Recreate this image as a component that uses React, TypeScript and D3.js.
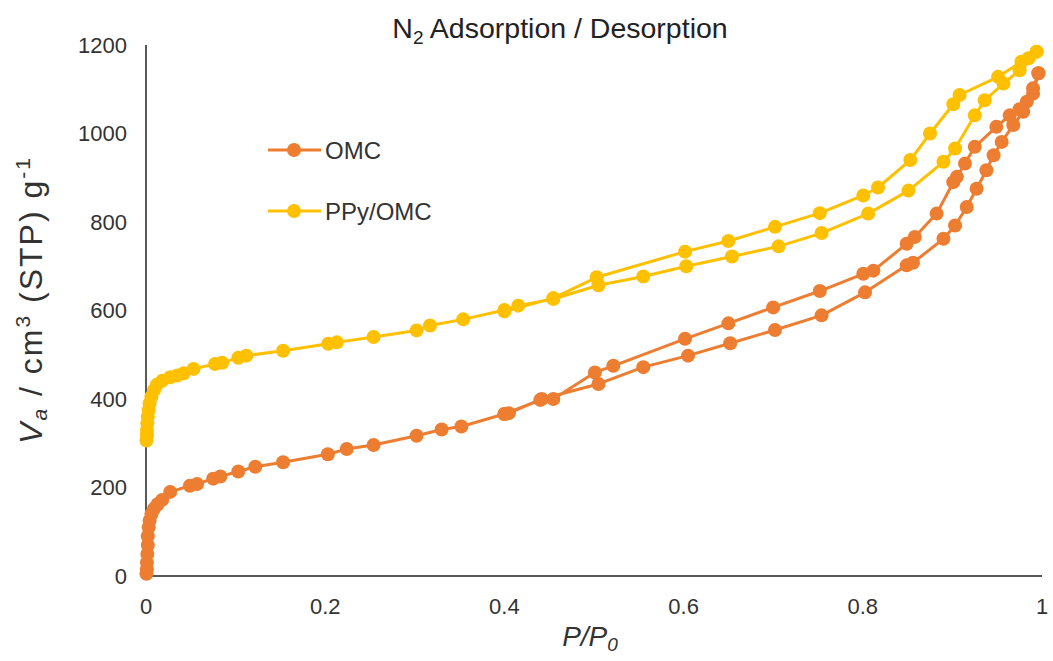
import React from "react";
import * as d3 from "d3";

// ---- data ----
const omcAdsP = [0.0005, 0.001, 0.001, 0.0015, 0.002, 0.002, 0.003, 0.004, 0.006, 0.009, 0.013, 0.018, 0.027, 0.049, 0.057, 0.075, 0.083, 0.103, 0.122, 0.153, 0.203, 0.224, 0.254, 0.302, 0.33, 0.352, 0.4, 0.405, 0.4416, 0.505, 0.555, 0.605, 0.652, 0.702, 0.754, 0.8025, 0.849, 0.856, 0.89, 0.903, 0.916, 0.927, 0.938, 0.946, 0.955, 0.968, 0.979, 0.99, 0.996];
const omcAdsV = [5, 15, 30, 50, 70, 90, 110, 125, 140, 152, 162, 172, 190, 204, 208, 220, 225, 236, 247, 257, 275, 287, 296, 317, 331, 338, 366, 368, 400, 434, 472, 498, 526, 556, 589, 641, 702, 708, 762, 792, 834, 875, 917, 951, 981, 1019, 1049, 1090, 1136];
const omcDesP = [0.996, 0.99, 0.983, 0.975, 0.964, 0.949, 0.925, 0.914, 0.905, 0.901, 0.8824, 0.858, 0.849, 0.8118, 0.8006, 0.752, 0.7, 0.65, 0.6016, 0.5216, 0.501, 0.4546, 0.44, 0.4];
const omcDesV = [1136, 1102, 1072, 1055, 1041, 1015, 970, 932, 902, 890, 819, 766, 751, 690, 683, 644, 607, 571, 536, 475, 460, 400, 398, 366];

const ppyAdsP = [0.0005, 0.001, 0.001, 0.0015, 0.002, 0.003, 0.004, 0.006, 0.009, 0.012, 0.018, 0.027, 0.035, 0.042, 0.053, 0.077, 0.085, 0.103, 0.112, 0.153, 0.2035, 0.213, 0.254, 0.302, 0.317, 0.354, 0.4, 0.4155, 0.4546, 0.505, 0.555, 0.603, 0.654, 0.706, 0.754, 0.806, 0.851, 0.89, 0.903, 0.925, 0.936, 0.957, 0.975, 0.994];
const ppyAdsV = [306, 318, 330, 345, 360, 375, 390, 405, 420, 432, 441, 449, 453, 458, 468, 479, 482, 493, 498, 509, 525, 528, 540, 555, 566, 580, 601, 611, 626, 657, 677, 700, 722, 745, 775, 819, 871, 936, 966, 1041, 1075, 1113, 1143, 1185];
const ppyDesP = [0.994, 0.985, 0.977, 0.951, 0.908, 0.901, 0.875, 0.853, 0.817, 0.8006, 0.752, 0.702, 0.65, 0.6016, 0.503, 0.4546, 0.4];
const ppyDesV = [1185, 1170, 1162, 1128, 1087, 1066, 1000, 940, 878, 860, 820, 789, 757, 733, 675, 628, 598];

const seriesNames = ["OMC", "PPy/OMC"];
const seriesColors = ["#ED7D31", "#FFC000"];
const xTicks = [0, 0.2, 0.4, 0.6, 0.8, 1];
const yTicks = [0, 200, 400, 600, 800, 1000, 1200];

type Pt = { p: number; v: number };
const zip = (ps: number[], vs: number[]): Pt[] => ps.map((p, i) => ({ p, v: vs[i] }));

const series = [
  { name: seriesNames[0], color: seriesColors[0], pts: [...zip(omcAdsP, omcAdsV), ...zip(omcDesP, omcDesV)] },
  { name: seriesNames[1], color: seriesColors[1], pts: [...zip(ppyAdsP, ppyAdsV), ...zip(ppyDesP, ppyDesV)] },
];

const W = 1053;
const H = 661;
const plot = { left: 146, right: 1042, top: 45, bottom: 576 };
const FONT = "'Liberation Sans', Arial, sans-serif";

export default function App() {
  const x = d3.scaleLinear().domain([0, 1]).range([plot.left, plot.right]);
  const y = d3.scaleLinear().domain([0, 1200]).range([plot.bottom, plot.top]);
  const line = d3
    .line<Pt>()
    .x((d) => x(d.p))
    .y((d) => y(d.v));

  const yLabelCenter = 300;

  return (
    <svg
      width={W}
      height={H}
      style={{ position: "absolute", left: 0, top: 0, background: "#fff" }}
      fontFamily={FONT}
    >
      <rect x={0} y={0} width={W} height={H} fill="#fff" />
      {/* title */}
      <text x={560} y={38} textAnchor="middle" fontSize={28.5} fill="#222">
        N<tspan fontSize={19} dy={6}>2</tspan>
        <tspan dy={-6}> Adsorption / Desorption</tspan>
      </text>

      {/* axes */}
      <line x1={plot.left} x2={plot.left} y1={plot.top} y2={plot.bottom} stroke="#222" strokeWidth={1.5} />
      <line x1={plot.left} x2={plot.right} y1={plot.bottom} y2={plot.bottom} stroke="#222" strokeWidth={1.5} />

      {/* y ticks */}
      {yTicks.map((t) => (
        <text key={"y" + t} x={127} y={y(t)} textAnchor="end" dominantBaseline="central" fontSize={22} fill="#333">
          {t}
        </text>
      ))}
      {/* x ticks */}
      {xTicks.map((t) => (
        <text key={"x" + t} x={x(t)} y={606} textAnchor="middle" dominantBaseline="central" fontSize={22} fill="#333">
          {t}
        </text>
      ))}

      {/* x axis label */}
      <text x={590} y={646} textAnchor="middle" fontSize={28} fontStyle="italic" fill="#333">
        P/P<tspan fontSize={19} dy={5}>0</tspan>
      </text>

      {/* y axis label */}
      <text
        transform={`translate(42,${yLabelCenter}) rotate(-90)`}
        textAnchor="middle"
        fontSize={32}
        letterSpacing={2}
        fill="#333"
      >
        <tspan fontStyle="italic">V</tspan>
        <tspan fontStyle="italic" fontSize={21} dy={5}>a</tspan>
        <tspan dy={-5}> / cm</tspan>
        <tspan fontSize={21} dy={-12}>3</tspan>
        <tspan dy={12}> (STP) g</tspan>
        <tspan fontSize={21} dy={-12}>-1</tspan>
      </text>

      {/* series */}
      {series.map((s) => (
        <g key={s.name}>
          <path d={line(s.pts) || ""} fill="none" stroke={s.color} strokeWidth={3} strokeLinejoin="round" />
          {s.pts.map((d, i) => (
            <circle key={i} cx={x(d.p)} cy={y(d.v)} r={7} fill={s.color} />
          ))}
        </g>
      ))}

      {/* legend */}
      {series.map((s, i) => {
        const ly = 150 + i * 61;
        return (
          <g key={"lg" + s.name}>
            <line x1={268} x2={321} y1={ly} y2={ly} stroke={s.color} strokeWidth={3} />
            <circle cx={294} cy={ly} r={7} fill={s.color} />
            <text x={325} y={ly} dominantBaseline="central" fontSize={24} fill="#333">
              {s.name}
            </text>
          </g>
        );
      })}
    </svg>
  );
}
